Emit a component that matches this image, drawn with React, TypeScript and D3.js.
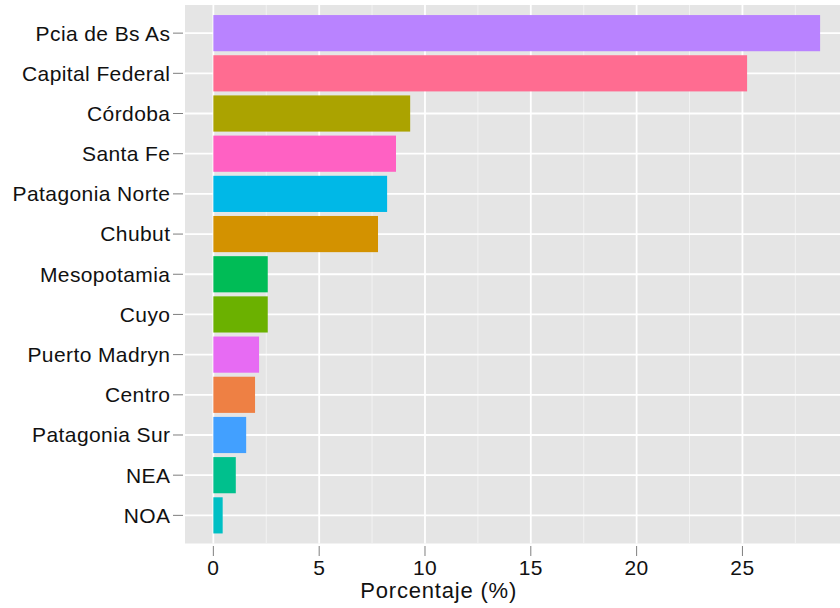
import React from "react";
import * as d3 from "d3";

const categories = [
  "Pcia de Bs As",
  "Capital Federal",
  "Córdoba",
  "Santa Fe",
  "Patagonia Norte",
  "Chubut",
  "Mesopotamia",
  "Cuyo",
  "Puerto Madryn",
  "Centro",
  "Patagonia Sur",
  "NEA",
  "NOA",
];
const values = [28.67, 25.22, 9.3, 8.63, 8.21, 7.78, 2.57, 2.57, 2.16, 1.97, 1.55, 1.06, 0.44];
const colors = [
  "#B983FF",
  "#FF6C91",
  "#ABA300",
  "#FF61C3",
  "#00B8E7",
  "#D39200",
  "#00BC56",
  "#6BB100",
  "#E76BF3",
  "#EE8044",
  "#42A0FF",
  "#00C08D",
  "#00BFC4",
];
const majorTicks = [0, 5, 10, 15, 20, 25];
const minorTicks = [2.5, 7.5, 12.5, 17.5, 22.5, 27.5];
const xTitle = "Porcentaje (%)";

const W = 840;
const H = 608;
const panel = { left: 185, top: 5, right: 840, bottom: 543.5 };
const FONT = "'Liberation Sans', Arial, Helvetica, sans-serif";

export default function App() {
  const x = d3.scaleLinear().domain([-1.34, 29.61]).range([panel.left, panel.right]);
  const y = d3
    .scalePoint<string>()
    .domain(categories)
    .range([panel.top, panel.bottom])
    .padding(0.7);
  const step = y.step();
  const barH = step * 0.9;

  return (
    <svg
      width={W}
      height={H}
      style={{ position: "absolute", left: 0, top: 0, display: "block" }}
      fontFamily={FONT}
    >
      <rect x={0} y={0} width={W} height={H} fill="#ffffff" />
      <rect
        x={panel.left}
        y={panel.top}
        width={panel.right - panel.left}
        height={panel.bottom - panel.top}
        fill="#E5E5E5"
      />
      {minorTicks.map((t) => (
        <line
          key={"mn" + t}
          x1={x(t)}
          x2={x(t)}
          y1={panel.top}
          y2={panel.bottom}
          stroke="#F2F2F2"
          strokeWidth={1}
        />
      ))}
      {majorTicks.map((t) => (
        <line
          key={"mj" + t}
          x1={x(t)}
          x2={x(t)}
          y1={panel.top}
          y2={panel.bottom}
          stroke="#ffffff"
          strokeWidth={1.8}
        />
      ))}
      {categories.map((c) => (
        <line
          key={"hg" + c}
          x1={panel.left}
          x2={panel.right}
          y1={y(c)}
          y2={y(c)}
          stroke="#ffffff"
          strokeWidth={1.8}
        />
      ))}
      {categories.map((c, i) => (
        <rect
          key={"b" + c}
          x={x(0)}
          y={(y(c) as number) - barH / 2}
          width={x(values[i]) - x(0)}
          height={barH}
          fill={colors[i]}
        />
      ))}
      {categories.map((c) => (
        <g key={"yt" + c}>
          <line
            x1={173}
            x2={183}
            y1={y(c)}
            y2={y(c)}
            stroke="#7F7F7F"
            strokeWidth={1}
          />
          <text
            x={170.4}
            y={(y(c) as number) + 7.4}
            textAnchor="end"
            fontSize={21}
            letterSpacing={0.4}
            fill="#111111"
          >
            {c}
          </text>
        </g>
      ))}
      {majorTicks.map((t) => (
        <g key={"xt" + t}>
          <line
            x1={x(t)}
            x2={x(t)}
            y1={546}
            y2={556}
            stroke="#7F7F7F"
            strokeWidth={1}
          />
          <text
            x={x(t)}
            y={574.8}
            textAnchor="middle"
            fontSize={21}
            letterSpacing={0.4}
            fill="#111111"
          >
            {t}
          </text>
        </g>
      ))}
      <text
        x={438.7}
        y={597.5}
        textAnchor="middle"
        fontSize={22}
        letterSpacing={0.8}
        fill="#111111"
      >
        {xTitle}
      </text>
    </svg>
  );
}
